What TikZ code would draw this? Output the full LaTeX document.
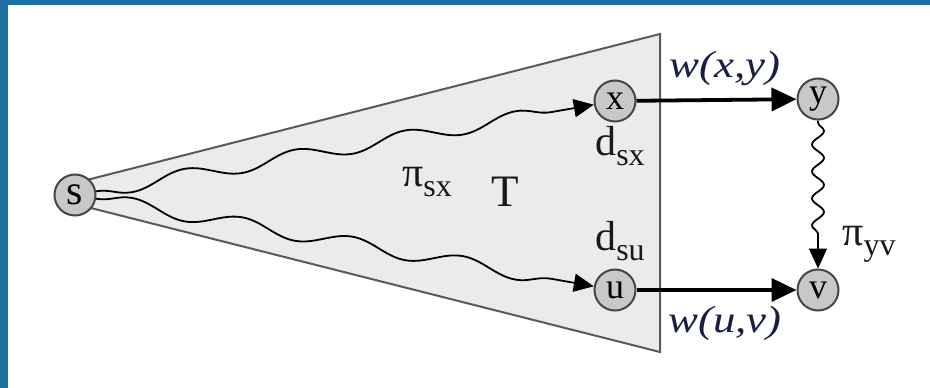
\documentclass[tikz,border=0pt]{standalone}
\usepackage{fontspec}
\setmainfont{Liberation Serif}
\usetikzlibrary{arrows.meta,decorations.pathmorphing}
\definecolor{frameblue}{RGB}{30,112,160}
\definecolor{nodegray}{RGB}{200,200,200}
\definecolor{nodeedge}{RGB}{70,70,70}
\definecolor{trifill}{RGB}{235,235,235}
\definecolor{triedge}{RGB}{90,90,90}
\definecolor{wlabel}{RGB}{25,30,70}
\newcommand{\fs}[1]{\fontsize{#1}{#1}\selectfont}
\tikzset{
  vtx/.style={circle, draw=nodeedge, fill=nodegray, line width=2pt, minimum size=41pt, inner sep=0pt, font=\fs{36}},
  heavy/.style={line width=3.8pt, -{Triangle[length=25pt,width=23pt]}},
  wavy/.style={line width=1.8pt, -{Triangle[length=20pt,width=18pt]}, decorate},
  lbl/.style={inner sep=0pt, font=\fs{42}, text=black!90}
}
\newcommand{\sub}[2]{#1\raisebox{-10pt}{\fs{32}#2}}
\begin{document}
\begin{tikzpicture}[x=1pt,y=-1pt]
\useasboundingbox (0,0) rectangle (930,388);
\fill[white] (0,0) rectangle (930,388);
\fill[frameblue] (0,0) rectangle (930,5);
\fill[frameblue] (0,0) rectangle (8,388);
% tree T
\coordinate (ta) at (75,183);
\coordinate (tb) at (75,204);
\coordinate (tc) at (660,34);
\coordinate (td) at (660,352);
\filldraw[fill=trifill, draw=triedge, line width=2pt, line join=miter] (ta) -- (tc) -- (td) -- (tb) -- cycle;
% nodes
\node[vtx, font=\fs{42}] (s) at (75,195) {s};
\node[vtx] (x) at (615,101) {x};
\node[vtx] (u) at (615,290) {u};
\node[vtx] (y) at (818,99) {y};
\node[vtx] (v) at (818,290) {v};
% edges
\draw[heavy] (x) -- (y);
\draw[heavy] (u) -- (v);
\draw[wavy, decoration={snake, amplitude=7pt, segment length=112pt, post length=24pt, mirror}] (s) -- (x);
\draw[wavy, decoration={snake, amplitude=7pt, segment length=112pt, post length=24pt}] (s) -- (u);
\draw[wavy, decoration={snake, amplitude=6pt, segment length=27pt, pre length=2pt, post length=22pt}] (y) -- (v);
% labels
\node[lbl, text=wlabel] (wxy) at (725,68) {\scalebox{1.18}[1]{\fs{38}\itshape w(x,y)}};
\node[lbl, text=wlabel] (wuv) at (725,323) {\scalebox{1.18}[1]{\fs{38}\itshape w(u,v)}};
\node[lbl] (pisx) at (427,182) {\sub{π}{sx}};
\node[lbl, font=\fs{45}] (T) at (505,192) {T};
\node[lbl] (dsx) at (620,146) {\sub{d}{sx}};
\node[lbl] (dsu) at (620,241) {\sub{d}{su}};
\node[lbl] (piyv) at (869,244) {\sub{π}{yv}};
\end{tikzpicture}
\end{document}
